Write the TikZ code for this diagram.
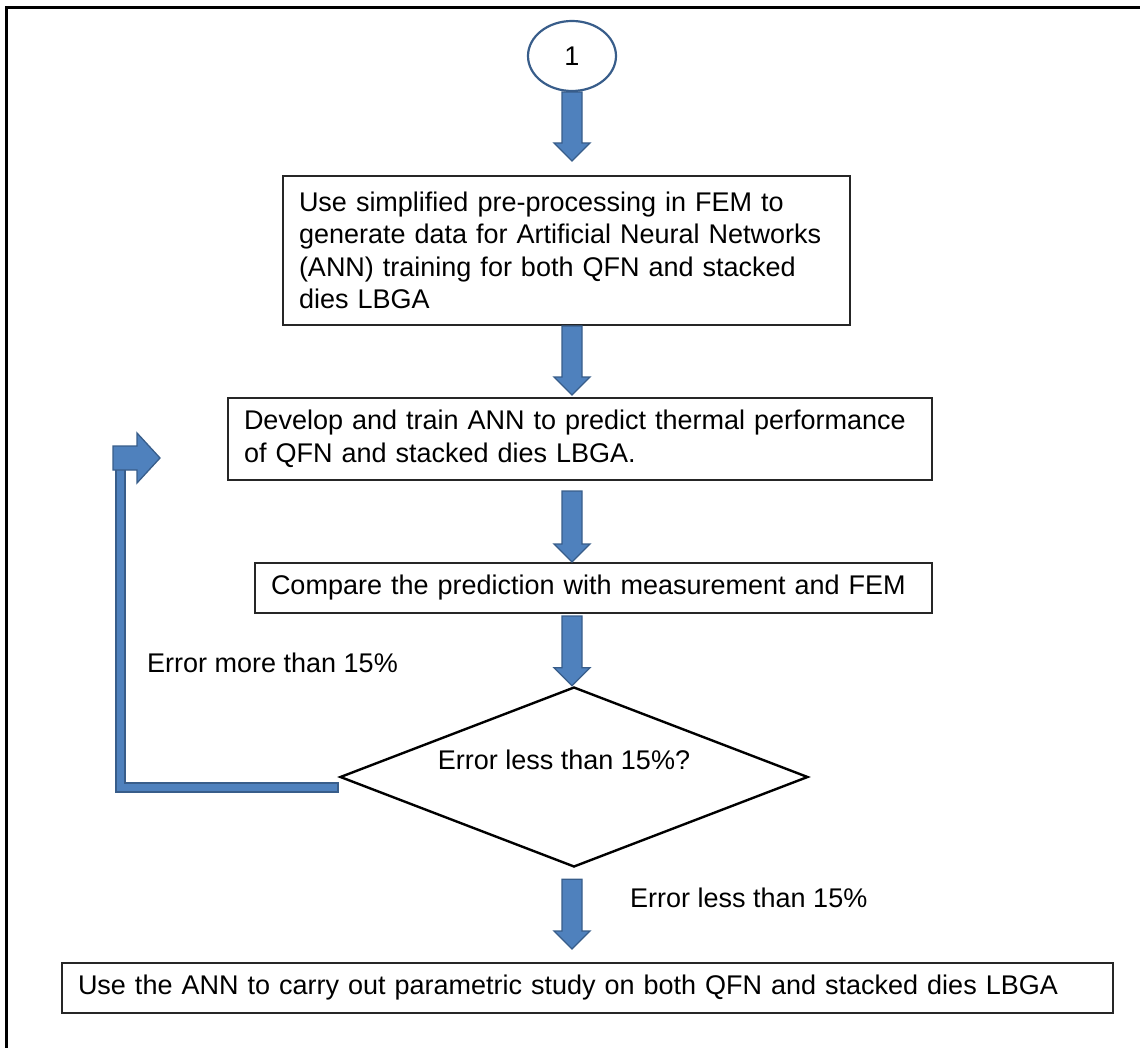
\documentclass[tikz,border=0pt]{standalone}
\usepackage{fontspec}
\setmainfont{Liberation Sans}
\usetikzlibrary{shapes.geometric,calc}
\definecolor{arrfill}{HTML}{4F81BD}
\definecolor{arrline}{HTML}{385D8A}
\tikzset{
  box/.style={draw=black!85, line width=2pt, inner xsep=16pt, inner ysep=0pt, align=left, anchor=center},
  barrow/.style={fill=arrfill, draw=arrline, line width=1.3pt, line join=miter},
  txt/.style={inner sep=0pt, anchor=west},
}
\newcommand\blockarr[2]{%
  \filldraw[barrow] let \p1=(#1), \p2=(#2) in
    (\x1-10pt,\y1) -- (\x1+10pt,\y1) -- (\x1+10pt,\y2+18pt) -- (\x1+18pt,\y2+18pt)
    -- (\x1,\y2) -- (\x1-18pt,\y2+18pt) -- (\x1-10pt,\y2+18pt) -- cycle;}
\begin{document}
\begin{tikzpicture}[x=1pt,y=-1pt,font=\fontsize{27}{32.5}\selectfont]
\useasboundingbox (0,0) rectangle (1140,1048);
% outer frame (top and left edges visible)
\draw[line width=3pt, line cap=rect] (1140,7.5) -- (6.5,7.5) -- (6.5,1048);

\node[ellipse, draw=arrline, line width=2.2pt, minimum width=88pt, minimum height=70pt, inner sep=0pt] (e) at (572,56) {1};

\node[box, text width=535pt, minimum height=149pt] (b1) at (566.5,250.5)
  {Use simplified pre-processing in FEM to\\generate data for Artificial Neural Networks\\(ANN) training for both QFN and stacked\\dies LBGA};
\node[box, text width=672pt, minimum height=82pt] (b2) at (580,439)
  {Develop and train ANN to predict thermal performance\\of QFN and stacked dies LBGA.};
\node[box, text width=645pt, minimum height=50pt] (b3) at (593.5,588)
  {Compare the prediction with measurement and FEM};
\node[diamond, draw=black, line width=2.4pt, minimum width=468pt, minimum height=180pt, inner sep=0pt,
  label={[yshift=17pt, xshift=-10pt, inner sep=0pt]center:Error less than 15\%?}] (d) at (574,777) {};
\node[box, text width=1019pt, minimum height=50pt] (b5) at (587.5,988)
  {Use the ANN to carry out parametric study on both QFN and stacked dies LBGA};

\node[txt] (lm) at (147,663) {Error more than 15\%};
\node[txt] (ll) at (630,898) {Error less than 15\%};

% block arrows
\coordinate (a1s) at (e.south);
\coordinate (a1e) at ($(b1.north)+(0,-14)$);
\blockarr{a1s}{a1e}
\coordinate (a2s) at (b1.south -| e.south);
\coordinate (a2e) at ($(b2.north)+(0,-2)$);
\blockarr{a2s}{a2e}
\coordinate (a3s) at ($(b2.south -| e.south)+(0,10)$);
\blockarr{a3s}{b3.north}
\coordinate (a4s) at ($(b3.south -| e.south)+(0,2)$);
\blockarr{a4s}{d.north}
\coordinate (a5s) at ($(d.south -| e.south)+(0,11)$);
\coordinate (a5e) at ($(b5.north)+(0,-13)$);
\blockarr{a5s}{a5e}

% loop back arrow
\coordinate (ls) at ($(d.west)+(0,10)$);
\coordinate (lc) at (120,787);
\coordinate (lt) at (120,458);
\draw[arrline, line width=11pt, line join=miter] (ls) -- (lc) -- (lt);
\draw[arrfill, line width=7pt, line join=miter] ($(ls)+(-2,0)$) -- (lc) -- ($(lt)+(0,2)$);
\filldraw[barrow] ($(lt)+(-7,-12)$) -- ($(lt)+(17,-12)$) -- ($(lt)+(17,-25)$) -- ($(lt)+(40,0)$)
  -- ($(lt)+(17,25)$) -- ($(lt)+(17,12)$) -- ($(lt)+(-7,12)$) -- cycle;
\end{tikzpicture}
\end{document}
